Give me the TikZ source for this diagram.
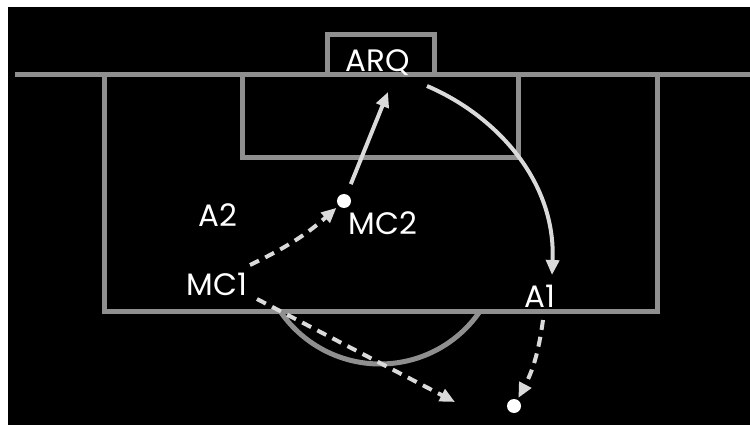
\documentclass[tikz,border=0pt]{standalone}
\usepackage{fontspec}
\setmainfont{Poppins}
\usetikzlibrary{arrows.meta}
\definecolor{pitchline}{HTML}{8F8F8F}
\definecolor{runline}{HTML}{DADADA}
\begin{document}
\begin{tikzpicture}[x=1pt, y=-1pt,
  field/.style={draw=pitchline, line width=5pt},
  player/.style={text=white, font=\fontsize{31}{33}\selectfont, anchor=base, inner sep=0pt},
  ball/.style={circle, fill=white, inner sep=0pt, minimum size=14pt},
  pass/.style={-{Triangle[length=15pt,width=13pt]}, draw=runline, line width=4pt},
  run/.style={pass, dash pattern=on 10pt off 7pt}
]
\useasboundingbox (0,0) rectangle (750,425);
\fill[white] (0,0) rectangle (750,425);
\fill[black] (8,7) rectangle (750,425);
% pitch lines
\draw[field] (327,75) -- (327,35) -- (434,35) -- (434,75);
\draw[field] (15,75) -- (750,75);
\draw[field] (104,75) -- (104,311) -- (657,311) -- (657,75);
\draw[field] (242,75) -- (242,158) -- (518,158) -- (518,75);
\draw[field] (280,311) arc[start angle=214.2, end angle=325.8, radius=121pt];
% players
\node[player] (arq) at (378,72) {ARQ};
\node[player] (a2) at (218,226) {A2};
\node[player] (mc1) at (217,295) {MC1};
\node[player] (mc2) at (383,234) {MC2};
\node[player] (a1) at (540,307) {A1};
\node[ball] (mc2ball) at (344,201) {};
\node[ball] (goalball) at (514,406) {};
% free ends
\coordinate (arqin) at (388,92);
\coordinate (arqout) at (427,86);
\coordinate (a1in) at (552,275);
\coordinate (a1out) at (543,320);
\coordinate (mc1up) at (250,265);
\coordinate (mc1down) at (257,299);
\coordinate (passend) at (455,402);
% moves
\draw[pass, shorten <=11pt] (mc2ball) -- (arqin);
\draw[pass] (arqout) .. controls (495,115) and (556,180) .. (a1in);
\draw[run, shorten >=3pt] (mc1up) to[bend right=8] (mc2ball);
\draw[run] (mc1down) -- (passend);
\draw[run, shorten >=2pt] (a1out) to[bend left=10] (goalball);
\end{tikzpicture}
\end{document}
